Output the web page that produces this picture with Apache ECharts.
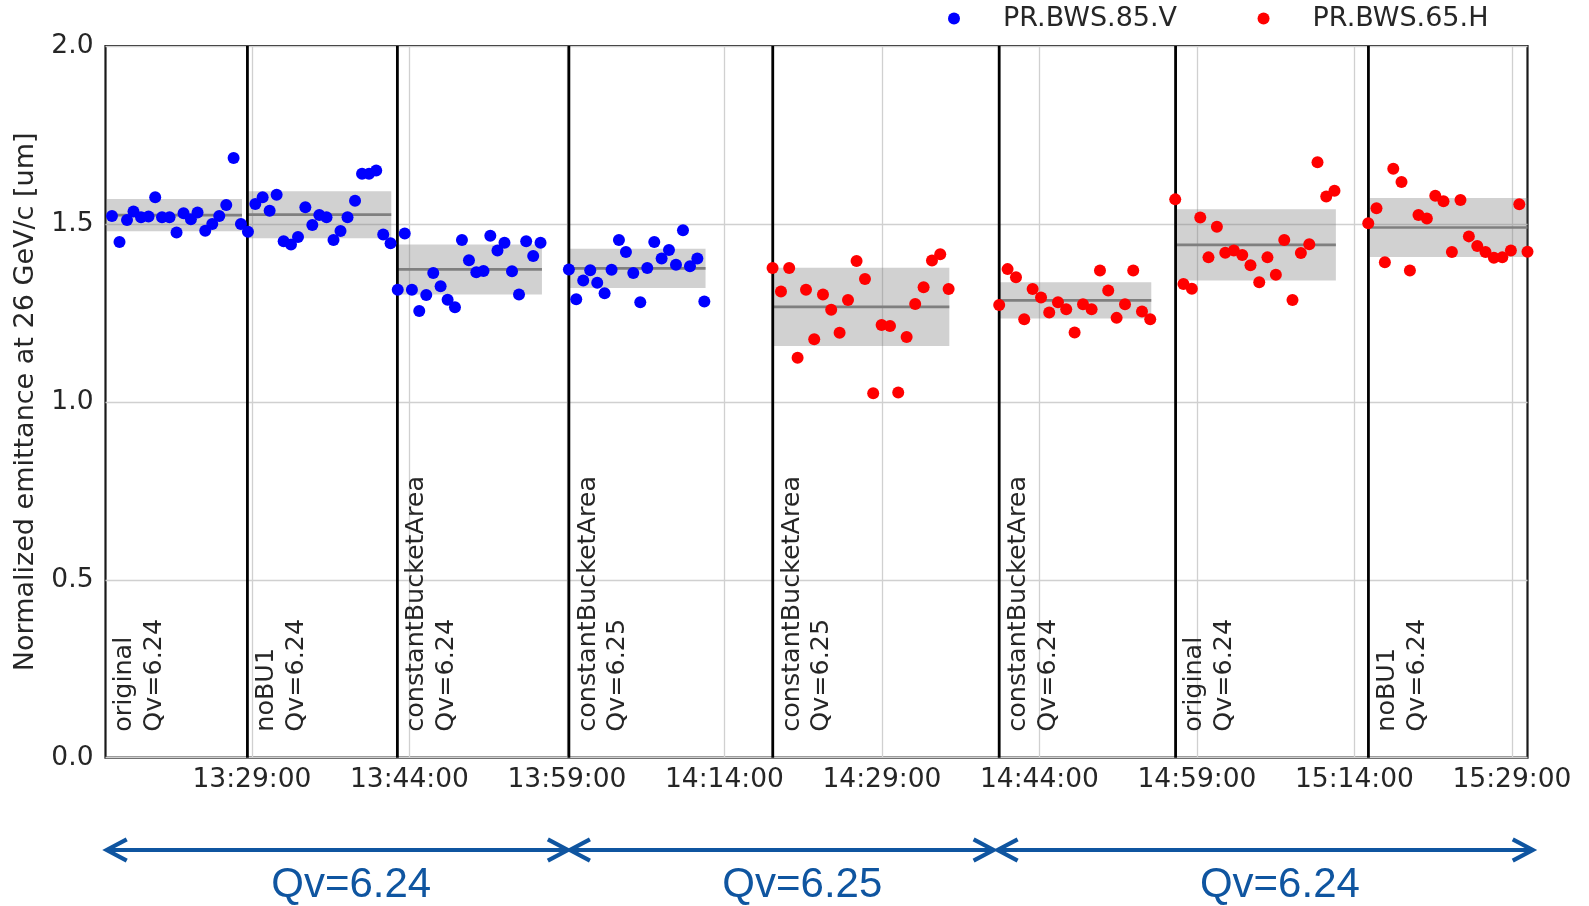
<!DOCTYPE html>
<html>
<head>
<meta charset="utf-8">
<script src="https://cdn.jsdelivr.net/npm/echarts@6/dist/echarts.min.js"></script>
<style>
  html, body { margin: 0; padding: 0; background: #ffffff; }
  #chart { width: 1589px; height: 906px; }
</style>
</head>
<body>
<div id="chart"></div>
<script>
// ---- measurement data (times HH:MM:SS, normalized emittance in um) ----
const seriesNames = ['PR.BWS.85.V', 'PR.BWS.65.H'];

const vTimes = [
  '13:15:40','13:16:23','13:17:06','13:17:43','13:18:26','13:19:09','13:19:47','13:20:26','13:21:09','13:21:49',
  '13:22:29','13:23:11','13:23:49','13:24:33','13:25:13','13:25:53','13:26:33','13:27:15','13:27:57',
  '13:28:37','13:29:19','13:30:01','13:30:41','13:31:21','13:32:01','13:32:43','13:33:23','13:34:05','13:34:45',
  '13:35:25','13:36:06','13:36:46','13:37:26','13:38:06','13:38:49','13:39:29','13:40:09','13:40:50','13:41:30','13:42:12',
  '13:42:53','13:43:33','13:44:14','13:44:56','13:45:36','13:46:16','13:46:58','13:47:38','13:48:20','13:49:00',
  '13:49:40','13:50:22','13:51:03','13:51:42','13:52:23','13:53:03','13:53:46','13:54:26','13:55:07','13:55:47','13:56:29',
  '13:59:11','13:59:53','14:00:33','14:01:13','14:01:53','14:02:35','14:03:15','14:03:57','14:04:37','14:05:19',
  '14:05:59','14:06:39','14:07:19','14:08:01','14:08:43','14:09:23','14:10:03','14:10:43','14:11:25','14:12:05'
];
const vValues = [
  1.522,1.449,1.511,1.535,1.519,1.521,1.575,1.519,1.519,1.476,
  1.530,1.513,1.532,1.481,1.500,1.522,1.553,1.685,1.500,
  1.478,1.556,1.575,1.537,1.582,1.451,1.442,1.463,1.547,1.497,
  1.525,1.519,1.455,1.480,1.519,1.565,1.641,1.641,1.650,1.470,1.446,
  1.315,1.473,1.315,1.255,1.300,1.362,1.325,1.287,1.266,1.455,
  1.398,1.364,1.368,1.467,1.425,1.447,1.367,1.302,1.451,1.410,1.447,
  1.372,1.288,1.341,1.370,1.335,1.305,1.371,1.455,1.421,1.362,
  1.280,1.376,1.449,1.403,1.427,1.385,1.482,1.381,1.403,1.282
];

const hTimes = [
  '14:18:35','14:19:23','14:20:10','14:20:58','14:21:46','14:22:33','14:23:23','14:24:10','14:24:58','14:25:46',
  '14:26:35','14:27:23','14:28:10','14:28:58','14:29:46','14:30:33','14:31:21','14:32:10','14:32:58','14:33:46','14:34:33','14:35:21',
  '14:40:10','14:40:58','14:41:46','14:42:33','14:43:21','14:44:09','14:44:56','14:45:46','14:46:33','14:47:21',
  '14:48:09','14:48:58','14:49:46','14:50:33','14:51:21','14:52:09','14:52:56','14:53:46','14:54:33',
  '14:56:56','14:57:43','14:58:31','14:59:19','15:00:06','15:00:54','15:01:42','15:02:31','15:03:19','15:04:06',
  '15:04:56','15:05:43','15:06:31','15:07:19','15:08:06','15:08:54','15:09:42','15:10:29','15:11:19','15:12:06',
  '15:15:19','15:16:06','15:16:54','15:17:42','15:18:29','15:19:17','15:20:06','15:20:54','15:21:42','15:22:29',
  '15:23:17','15:24:06','15:24:54','15:25:42','15:26:29','15:27:17','15:28:05','15:28:54','15:29:42','15:30:29'
];
const hValues = [
  1.376,1.310,1.376,1.124,1.315,1.176,1.302,1.259,1.194,1.286,
  1.396,1.345,1.024,1.216,1.213,1.026,1.182,1.275,1.322,1.397,1.415,1.317,
  1.272,1.373,1.350,1.232,1.317,1.293,1.251,1.280,1.260,1.195,
  1.274,1.260,1.369,1.313,1.236,1.274,1.369,1.254,1.232,
  1.569,1.331,1.318,1.518,1.406,1.492,1.419,1.425,1.413,1.384,
  1.336,1.406,1.357,1.455,1.286,1.418,1.443,1.673,1.577,1.593,
  1.502,1.544,1.392,1.655,1.618,1.369,1.525,1.515,1.579,1.564,
  1.421,1.567,1.465,1.438,1.421,1.405,1.406,1.425,1.555,1.422
];

// ---- machine settings per segment ----
const axisStart = '13:15:03';
const axisEnd = '15:30:29';
const changeTimes = ['13:28:34','13:42:51','13:59:11','14:18:36','14:40:10','14:56:58','15:15:20'];
const segmentLabels = [
  'original\nQv=6.24', 'noBU1\nQv=6.24', 'constantBucketArea\nQv=6.24', 'constantBucketArea\nQv=6.25',
  'constantBucketArea\nQv=6.25', 'constantBucketArea\nQv=6.24', 'original\nQv=6.24', 'noBU1\nQv=6.24'
];

// mean +/- one standard deviation for each segment
const bandStart = ['13:15:07','13:28:37','13:42:52','13:59:11','14:18:41','14:40:12','14:56:56','15:15:27'];
const bandEnd   = ['13:28:03','13:42:16','13:56:37','14:12:12','14:35:25','14:54:39','15:12:14','15:30:29'];
const bandMean  = [1.5245, 1.526, 1.372, 1.375, 1.267, 1.285, 1.441, 1.490];
const bandStd   = [0.0454, 0.066, 0.070, 0.055, 0.110, 0.051, 0.100, 0.083];

const tickTimes = ['13:29:00','13:44:00','13:59:00','14:14:00','14:29:00','14:44:00','14:59:00','15:14:00','15:29:00'];
const yTicks = [0, 0.5, 1.0, 1.5, 2.0];

// tune periods shown under the time axis
const qvText = ['Qv=6.24', 'Qv=6.25', 'Qv=6.24'];
const qvFrom = ['13:15:10', '13:59:17', '14:40:01'];
const qvTo   = ['13:59:05', '14:39:38', '15:30:59'];
const qvTextAt = ['13:38:27', '14:21:25', '15:06:54'];

// ---- helpers ----
const toSec = s => { const p = s.split(':').map(Number); return p[0] * 3600 + p[1] * 60 + p[2]; };
const pad = n => (n < 10 ? '0' : '') + n;
const fmtTime = v => {
  v = Math.round(v);
  return pad(Math.floor(v / 3600)) + ':' + pad(Math.floor((v % 3600) / 60)) + ':' + pad(v % 60);
};

const FONT = '"DejaVu Sans", "Noto Sans", sans-serif';
const TEXT = '#262626';
const QV_BLUE = '#0f55a0';

const labelTimes = [axisStart].concat(changeTimes);

const chart = echarts.init(document.getElementById('chart'), null, { renderer: 'canvas' });

const option = {
  animation: false,
  backgroundColor: '#ffffff',
  grid: {
    left: 105.5, right: 61.5, top: 46, bottom: 148.3,
    show: true, borderColor: '#1a1a1a', borderWidth: 2.2, backgroundColor: '#ffffff',
    containLabel: false, outerBoundsMode: 'none'
  },
  legend: {
    data: seriesNames,
    icon: 'circle',
    left: 948, top: 5, padding: 0,
    itemWidth: 88, itemHeight: 12, itemGap: 80.5,
    textStyle: { fontFamily: FONT, fontSize: 27, color: TEXT }
  },
  xAxis: {
    type: 'value',
    min: toSec(axisStart),
    max: toSec(axisEnd),
    axisLine: { show: false },
    axisTick: { show: false, customValues: tickTimes.map(toSec) },
    axisLabel: {
      customValues: tickTimes.map(toSec),
      formatter: v => fmtTime(v),
      fontFamily: FONT, fontSize: 26.5, color: TEXT, margin: 9
    },
    splitLine: { show: true, lineStyle: { color: '#d0d0d0', width: 1.3 } }
  },
  yAxis: {
    type: 'value',
    min: 0, max: 2,
    axisLine: { show: false },
    axisTick: { show: false, customValues: yTicks },
    axisLabel: {
      customValues: yTicks,
      formatter: v => v.toFixed(1),
      fontFamily: FONT, fontSize: 26.5, color: TEXT, margin: 12
    },
    splitLine: { show: true, lineStyle: { color: '#d0d0d0', width: 1.3 } },
    name: 'Normalized emittance at 26 GeV/c [um]',
    nameLocation: 'middle', nameRotate: 90, nameGap: 66,
    nameTextStyle: { fontFamily: FONT, fontSize: 27, color: TEXT }
  },
  series: [
    {
      // shaded +/- 1 sigma band and mean line for each setting
      type: 'custom',
      name: 'bands',
      z: 2,
      silent: true,
      encode: { x: [0, 1], y: 2 },
      data: bandStart.map((s, i) => [toSec(s), toSec(bandEnd[i]), bandMean[i], bandStd[i]]),
      renderItem: (params, api) => {
        const x0 = api.value(0), x1 = api.value(1), m = api.value(2), sd = api.value(3);
        const tl = api.coord([x0, m + sd]);
        const br = api.coord([x1, m - sd]);
        const ml = api.coord([x0, m]);
        const mr = api.coord([x1, m]);
        return {
          type: 'group',
          children: [
            { type: 'rect', shape: { x: tl[0], y: tl[1], width: br[0] - tl[0], height: br[1] - tl[1] },
              style: { fill: 'rgba(120,120,120,0.34)' } },
            { type: 'line', shape: { x1: ml[0], y1: ml[1], x2: mr[0], y2: mr[1] },
              style: { stroke: '#7f7f7f', lineWidth: 2.7 } }
          ]
        };
      }
    },
    {
      // vertical markers where the setting changed
      type: 'custom',
      name: 'changes',
      z: 3,
      silent: true,
      encode: { x: 0 },
      data: changeTimes.map(t => [toSec(t)]),
      renderItem: (params, api) => {
        const t = api.value(0);
        const a = api.coord([t, 0]);
        const b = api.coord([t, 2]);
        return { type: 'line', shape: { x1: a[0], y1: a[1], x2: b[0], y2: b[1] },
                 style: { stroke: '#000000', lineWidth: 2.8 } };
      }
    },
    {
      type: 'scatter',
      name: seriesNames[0],
      z: 4,
      symbol: 'circle',
      symbolSize: 12,
      itemStyle: { color: '#0000ff', opacity: 1 },
      data: vTimes.map((t, i) => [toSec(t), vValues[i]])
    },
    {
      type: 'scatter',
      name: seriesNames[1],
      z: 4,
      symbol: 'circle',
      symbolSize: 12,
      itemStyle: { color: '#ff0000', opacity: 1 },
      data: hTimes.map((t, i) => [toSec(t), hValues[i]])
    },
    {
      // rotated setting names at the start of each segment
      type: 'custom',
      name: 'settings',
      z: 5,
      silent: true,
      encode: { x: 0 },
      data: labelTimes.map((t, i) => [toSec(t), i]),
      renderItem: (params, api) => {
        const p = api.coord([api.value(0), 0]);
        return {
          type: 'text',
          x: p[0] + 4.5,
          y: p[1] - 26,
          rotation: Math.PI / 2,
          style: {
            text: segmentLabels[api.value(1)],
            fill: TEXT,
            fontFamily: FONT,
            fontSize: 25.4,
            lineHeight: 29.5,
            align: 'left',
            verticalAlign: 'top'
          }
        };
      }
    }
  ]
};

chart.setOption(option);

// tune-period arrows and captions below the time axis
const px = t => chart.convertToPixel({ xAxisIndex: 0 }, toSec(t));
const arrowY = 850;
const head = 20, wing = 10.7;
const graphics = [];
qvText.forEach((txt, i) => {
  const a = px(qvFrom[i]);
  const b = px(qvTo[i]);
  const lineStyle = { stroke: QV_BLUE, lineWidth: 4.2, fill: null, lineJoin: 'miter', lineCap: 'butt' };
  graphics.push({ type: 'line', shape: { x1: a, y1: arrowY, x2: b, y2: arrowY }, style: lineStyle, silent: true });
  graphics.push({ type: 'polyline', shape: { points: [[a + head, arrowY - wing], [a, arrowY], [a + head, arrowY + wing]] }, style: lineStyle, silent: true });
  graphics.push({ type: 'polyline', shape: { points: [[b - head, arrowY - wing], [b, arrowY], [b - head, arrowY + wing]] }, style: lineStyle, silent: true });
  graphics.push({
    type: 'text', x: px(qvTextAt[i]), y: 885, silent: true,
    style: { text: txt, fill: QV_BLUE, fontFamily: '"Liberation Sans", Arial, sans-serif', fontSize: 42,
             align: 'center', verticalAlign: 'middle' }
  });
});
chart.setOption({ graphic: graphics });
</script>
</body>
</html>
